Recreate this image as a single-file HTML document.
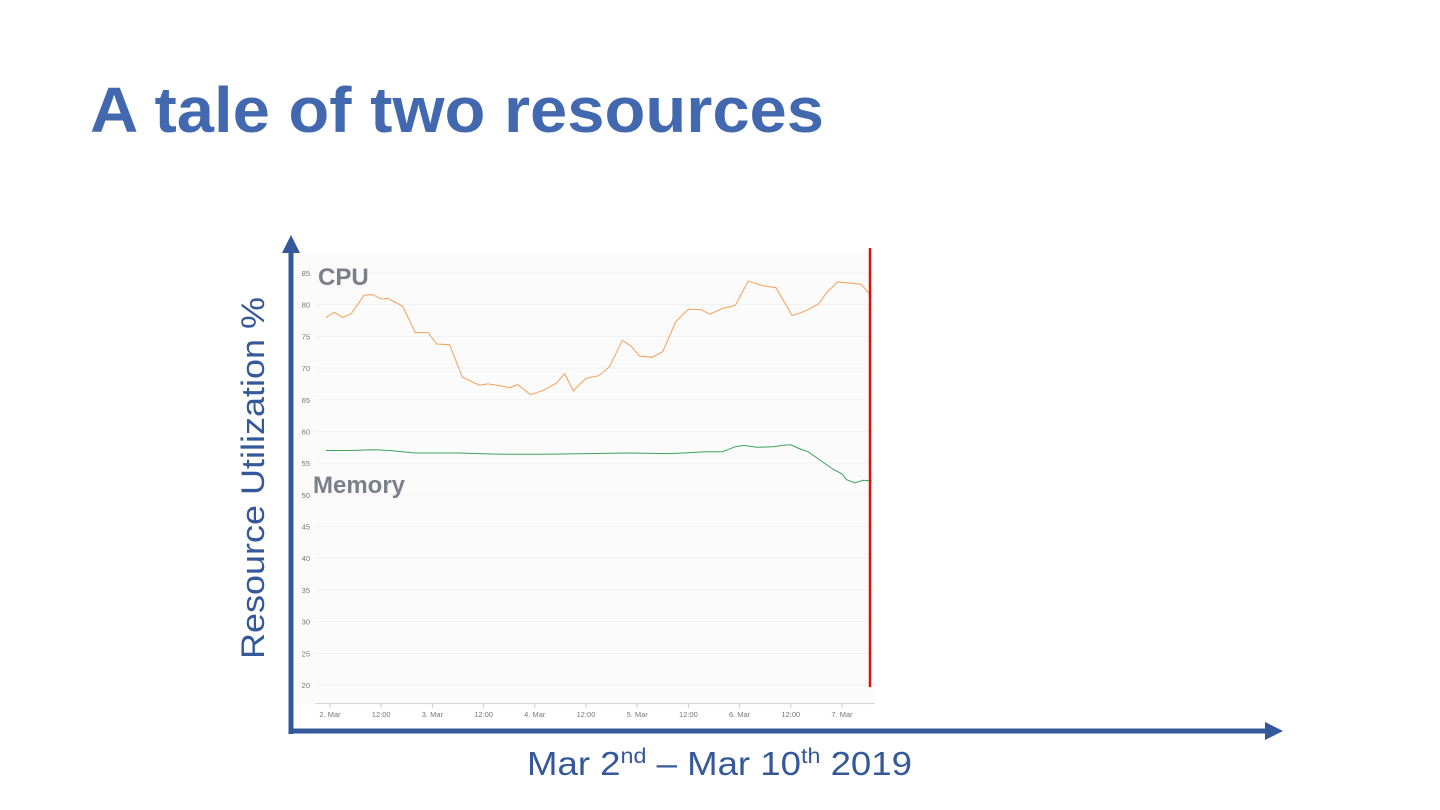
<!DOCTYPE html>
<html><head><meta charset="utf-8"><style>
html,body{margin:0;padding:0;background:#fff;}
svg{display:block;font-family:"Liberation Sans",sans-serif;}
</style></head><body>
<svg id="slide" width="1440" height="810" viewBox="0 0 1440 810">
<text x="90" y="132" font-size="64" font-weight="bold" fill="#4268b0" textLength="734" lengthAdjust="spacingAndGlyphs">A tale of two resources</text>
<rect x="297" y="252" width="578" height="453" fill="#fbfbfb"/>
<g id="grid"></g>
<g id="yticks"></g>
<g id="xticks"></g>
<line x1="315" y1="703.5" x2="875" y2="703.5" stroke="#d8d8d8" stroke-width="1"/>
<path id="cpu" fill="none" stroke="#f5a05a" stroke-width="1"/>
<path id="mem" fill="none" stroke="#3aa55a" stroke-width="1"/>
<line x1="870" y1="248" x2="870" y2="687" stroke="#d01515" stroke-width="2.5"/>
<text x="318" y="285" font-size="24" font-weight="bold" fill="#7a7f8a">CPU</text>
<text x="313" y="493" font-size="24" font-weight="bold" fill="#7a7f8a">Memory</text>
<line x1="291" y1="250" x2="291" y2="734" stroke="#34589a" stroke-width="5"/>
<polygon points="291,235 282,253 300,253" fill="#34589a"/>
<line x1="289" y1="731" x2="1266" y2="731" stroke="#34589a" stroke-width="5"/>
<polygon points="1283,731 1265,722 1265,740" fill="#34589a"/>
<text transform="translate(264,478) rotate(-90)" text-anchor="middle" font-size="32" fill="#34589a" textLength="362" lengthAdjust="spacingAndGlyphs">Resource Utilization %</text>
<text x="527" y="775" font-size="33" fill="#34589a" textLength="385" lengthAdjust="spacingAndGlyphs">Mar 2<tspan font-size="21" dy="-12">nd</tspan><tspan dy="12"> – Mar 10</tspan><tspan font-size="21" dy="-12">th</tspan><tspan dy="12"> 2019</tspan></text>
</svg>
<script>
const yTicks=[20,25,30,35,40,45,50,55,60,65,70,75,80,85];
const xTickHours=[0,12,24,36,48,60,72,84,96,108,120];
const xTickLabels=["2. Mar","12:00","3. Mar","12:00","4. Mar","12:00","5. Mar","12:00","6. Mar","12:00","7. Mar"];
const cpuHours=[-1,1,3,5,8,10,12,13.5,17,20,23,25,28,31,35,37,40,42,44,47,50,53,55,57,60,63,65.5,68.5,70.5,72.5,75.5,78,81,84,87,89,92,95,98,101.5,104.5,108.3,110.6,112.8,114.6,116.4,119,122,124.5,127];
const cpuValues=[78.0,78.8,78.0,78.6,81.5,81.6,80.9,81.0,79.8,75.6,75.6,73.8,73.7,68.6,67.3,67.5,67.2,66.9,67.4,65.8,66.5,67.6,69.1,66.4,68.4,68.8,70.2,74.4,73.5,71.9,71.7,72.6,77.3,79.3,79.2,78.5,79.4,79.9,83.7,83.0,82.7,78.3,78.8,79.5,80.2,81.9,83.6,83.4,83.2,81.3];
const memHours=[-1,5,10,14,20,30,40,50,60,70,80,88,92,95,97,100,104,106,108,110,112,115,118,120,121,123,125,127];
const memValues=[57.0,57.0,57.1,57.0,56.6,56.6,56.4,56.4,56.5,56.6,56.5,56.8,56.8,57.6,57.8,57.5,57.6,57.8,57.9,57.3,56.8,55.4,54.0,53.3,52.4,51.9,52.3,52.2];
const ns="http://www.w3.org/2000/svg";
const xS=h=>330+h*(512/120);
const yS=v=>685-(v-20)*(412/65);
const grid=document.getElementById('grid'),yt=document.getElementById('yticks'),xt=document.getElementById('xticks');
yTicks.forEach(v=>{
const l=document.createElementNS(ns,'line');
l.setAttribute('x1',315);l.setAttribute('x2',875);l.setAttribute('y1',yS(v));l.setAttribute('y2',yS(v));
l.setAttribute('stroke','#efefef');l.setAttribute('stroke-width','0.8');


grid.appendChild(l);
const t=document.createElementNS(ns,'text');
t.setAttribute('x',310);t.setAttribute('y',yS(v)+3);t.setAttribute('text-anchor','end');
t.setAttribute('font-size','7.5');t.setAttribute('fill','#777');t.textContent=v;


yt.appendChild(t);
});
xTickHours.forEach((h,i)=>{
const t=document.createElementNS(ns,'text');
t.setAttribute('x',xS(h));t.setAttribute('y',717);t.setAttribute('text-anchor','middle');
t.setAttribute('font-size','7.5');t.setAttribute('fill','#777');t.textContent=xTickLabels[i];


xt.appendChild(t);
const k=document.createElementNS(ns,'line');
k.setAttribute('x1',xS(h));k.setAttribute('x2',xS(h));k.setAttribute('y1',703);k.setAttribute('y2',708);
k.setAttribute('stroke','#ccc');


xt.appendChild(k);
});
const mk=(hs,vs)=>hs.map((h,i)=>(i?'L':'M')+xS(h).toFixed(1)+','+yS(vs[i]).toFixed(1)).join('');
document.getElementById('cpu').setAttribute('d',mk(cpuHours,cpuValues));
document.getElementById('mem').setAttribute('d',mk(memHours,memValues));
</script>
</body></html>
